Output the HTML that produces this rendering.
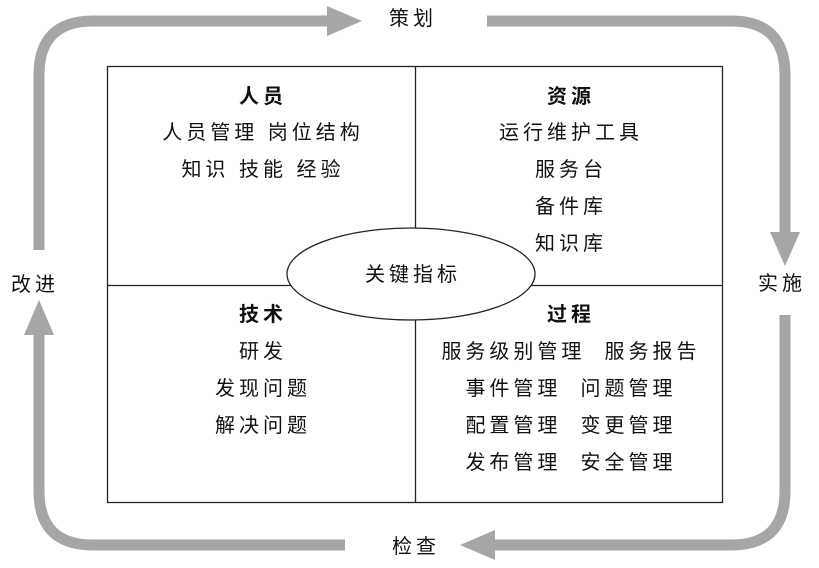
<!DOCTYPE html>
<html><head><meta charset="utf-8"><style>
body{margin:0;background:#fff;}
text{font-family:"Liberation Sans","Noto Sans CJK SC",sans-serif;font-size:20px;fill:#111;text-anchor:middle;letter-spacing:4px;}
.b{font-weight:bold;}
</style></head><body>
<svg width="819" height="563" viewBox="0 0 819 563">
<g fill="none" stroke="#a6a6a6" stroke-width="11">
<path d="M39 250 V75 Q39 21 93 21 H330"/>
<path d="M487 21 H731 Q785 21 785 75 V235"/>
<path d="M785 315 V491 Q785 545 731 545 H492"/>
<path d="M345 545 H93 Q39 545 39 491 V332"/>
</g>
<g fill="#a6a6a6">
<polygon points="327,6 362,21 327,36"/>
<polygon points="770,232 785,266 800,232"/>
<polygon points="495,530 460,545 495,560"/>
<polygon points="24,335 39,300 54,335"/>
</g>
<rect x="107.5" y="66.5" width="615" height="436" fill="#fff" stroke="#222" stroke-width="1.3"/>
<line x1="415.5" y1="66" x2="415.5" y2="503" stroke="#222" stroke-width="1.3"/>
<line x1="107" y1="285.5" x2="723" y2="285.5" stroke="#222" stroke-width="1.3"/>
<ellipse cx="411" cy="274" rx="124" ry="46" fill="#fff" stroke="#222" stroke-width="1.3"/>
<text x="413" y="281">关键指标</text>
<text x="413" y="25">策划</text>
<text x="782" y="290">实施</text>
<text x="416" y="553">检查</text>
<text x="35" y="291">改进</text>
<text x="263" y="103" class="b">人员</text>
<text x="263" y="139">人员管理  岗位结构</text>
<text x="263" y="176">知识  技能  经验</text>
<text x="571" y="103" class="b">资源</text>
<text x="571" y="139">运行维护工具</text>
<text x="571" y="176">服务台</text>
<text x="571" y="213">备件库</text>
<text x="571" y="250">知识库</text>
<text x="263" y="321" class="b">技术</text>
<text x="263" y="358">研发</text>
<text x="263" y="395">发现问题</text>
<text x="263" y="432">解决问题</text>
<text x="571" y="321" class="b">过程</text>
<text x="571" y="358" xml:space="preserve">服务级别管理  服务报告</text>
<text x="571" y="395" xml:space="preserve">事件管理  问题管理</text>
<text x="571" y="432" xml:space="preserve">配置管理  变更管理</text>
<text x="571" y="469" xml:space="preserve">发布管理  安全管理</text>
</svg>
</body></html>
